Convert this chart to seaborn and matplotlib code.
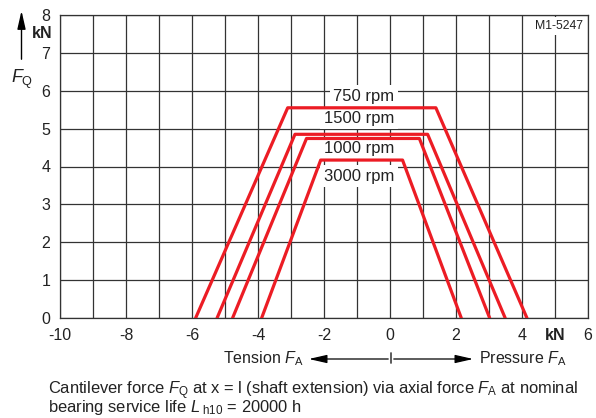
import matplotlib
matplotlib.use("Agg")
import matplotlib.pyplot as plt
import seaborn as sns

# speed curves: corner points (axial force F_A, cantilever force F_Q) in kN
speeds = ["750 rpm", "1500 rpm", "1000 rpm", "3000 rpm"]
fa_750 = [-5.89, -3.10, 1.39, 4.15]
fq_750 = [0, 5.55, 5.55, 0]
fa_1500 = [-5.24, -2.88, 1.14, 3.49]
fq_1500 = [0, 4.85, 4.85, 0]
fa_1000 = [-4.77, -2.53, 0.89, 3.02]
fq_1000 = [0, 4.74, 4.74, 0]
fa_3000 = [-3.89, -2.10, 0.38, 2.16]
fq_3000 = [0, 4.17, 4.17, 0]
label_y = [5.85, 5.27, 4.48, 3.74]

x_ticks = list(range(-10, 7))
x_labels = [str(v) if v % 2 == 0 else "" for v in x_ticks]
x_labels[x_ticks.index(5)] = "kN"
y_ticks = list(range(0, 9))

RED = "#ec1c24"
GRID = "#333333"

sns.set_style("white")
plt.rcParams["font.family"] = ["Liberation Sans", "DejaVu Sans"]
plt.rcParams["mathtext.fontset"] = "custom"
plt.rcParams["mathtext.rm"] = "Liberation Sans"
plt.rcParams["mathtext.it"] = "Liberation Sans:italic"
plt.rcParams["mathtext.bf"] = "Liberation Sans:bold"

fig = plt.figure(figsize=(5.96, 4.18), dpi=100)
ax = fig.add_axes([60 / 596, 1 - 318 / 418, 528 / 596, 303 / 418])

ax.set_xlim(-10, 6)
ax.set_ylim(0, 8)
ax.set_xticks(x_ticks)
ax.set_xticklabels(x_labels)
ax.set_yticks(y_ticks)
for t in ax.get_xticklabels():
    if t.get_text() == "kN":
        t.set_fontweight("bold")
ax.tick_params(direction="out", length=3, width=0.8, labelsize=11.5, pad=4,
               color="black", labelcolor="#222222")
ax.grid(True, color=GRID, lw=0.9, zorder=1)
ax.set_axisbelow(True)
for s in ax.spines.values():
    s.set_color(GRID)
    s.set_linewidth(0.9)

series = [(fa_750, fq_750), (fa_1500, fq_1500), (fa_1000, fq_1000), (fa_3000, fq_3000)]
for xs, ys in series:
    sns.lineplot(x=xs, y=ys, sort=False, estimator=None, color=RED, lw=2.3,
                 ax=ax, zorder=5)

for name, ly in zip(speeds, label_y):
    ax.text(0.13, ly, name, ha="right", va="center", fontsize=12, color="#222222",
            zorder=4, bbox=dict(facecolor="white", edgecolor="none", pad=2.5))

ax.text(5.86, 7.71, "M1-5247", ha="right", va="center", fontsize=8.8, color="#222222",
        zorder=4, bbox=dict(facecolor="white", edgecolor="none", pad=2))

ax.text(-0.015, 7.5, "kN", transform=ax.get_yaxis_transform(), ha="right",
        va="center", fontsize=11.5, fontweight="bold", color="#222222")

# up arrow and F_Q on the y side
ax.annotate("", xy=(21.5 / 596, 1 - 8 / 418), xytext=(21.5 / 596, 1 - 62 / 418),
            xycoords="figure fraction",
            arrowprops=dict(arrowstyle="-|>,head_length=1.1,head_width=0.25",
                            color="black", lw=1, mutation_scale=10))
fig.text(11 / 596, 1 - 83 / 418, r"$F_\mathrm{Q}$", fontsize=13, va="baseline",
         color="#222222")

# tension / pressure arrows
ya = 1 - 359 / 418
ax.annotate("", xy=(306 / 596, ya), xytext=(391 / 596, ya), xycoords="figure fraction",
            arrowprops=dict(arrowstyle="-|>,head_length=1.1,head_width=0.25",
                            color="black", lw=0.9, mutation_scale=10))
ax.annotate("", xy=(476 / 596, ya), xytext=(391 / 596, ya), xycoords="figure fraction",
            arrowprops=dict(arrowstyle="-|>,head_length=1.1,head_width=0.25",
                            color="black", lw=0.9, mutation_scale=10))
ax.annotate("", xy=(391 / 596, 1 - 350 / 418), xytext=(391 / 596, 1 - 366 / 418),
            xycoords="figure fraction",
            arrowprops=dict(arrowstyle="-", color="black", lw=0.9))
fig.text(304 / 596, 1 - 363 / 418, r"Tension $F_\mathrm{A}$", ha="right",
         va="baseline", fontsize=11.5, color="#222222")
fig.text(479 / 596, 1 - 363 / 418, r"Pressure $F_\mathrm{A}$", ha="left",
         va="baseline", fontsize=11.5, color="#222222")

caption = (r"Cantilever force $F_\mathrm{Q}$ at x = l (shaft extension) via axial force "
           r"$F_\mathrm{A}$ at nominal" "\n"
           r"bearing service life $L_\mathrm{\ h10}$ = 20000 h")
fig.text(48 / 596, 1 - 412 / 418, caption, ha="left", va="baseline",
         fontsize=11.9, color="#222222", linespacing=0.75)

fig.savefig("out.png", dpi=100)
